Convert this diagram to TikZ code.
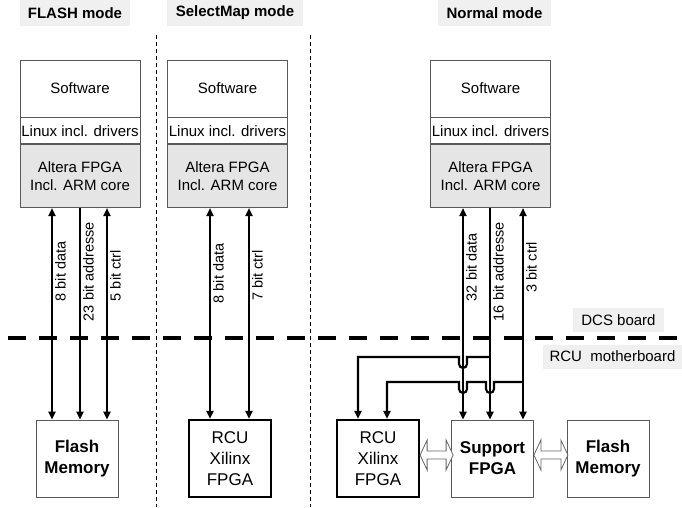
\documentclass[tikz,border=0pt]{standalone}
\usepackage{fontspec}
\setmainfont{Liberation Sans}
\usetikzlibrary{arrows.meta,positioning}

\tikzset{
  title/.style={fill=gray!12, font=\bfseries\fontsize{15}{18}\selectfont, minimum height=26pt, inner sep=0pt},
  layer/.style={draw=black!65, line width=0.8pt, minimum width=120pt, inner sep=0pt, align=center, font=\fontsize{15}{18}\selectfont},
  chip/.style={draw=black!65, line width=0.8pt, minimum width=82pt, minimum height=77pt, inner sep=0pt, align=center, font=\fontsize{17}{21}\selectfont},
  xilinx/.style={chip, draw=black, line width=2.2pt},
  bus/.style={line width=2.1pt},
  buslabel/.style={rotate=90, anchor=north, inner sep=2pt, font=\fontsize{14.5}{17}\selectfont},
  hollow/.style={draw=black!60, fill=white, line width=0.8pt},
  divider/.style={line width=0.9pt, dash pattern=on 4pt off 3pt},
  boardline/.style={line width=4.5pt, dash pattern=on 18pt off 13pt},
  board/.style={fill=gray!12, inner sep=0pt, minimum height=24pt, font=\fontsize{15}{18}\selectfont}
}

\begin{document}
\begin{tikzpicture}[x=1pt, y=-1pt, >={Triangle[length=8pt,width=7pt]}]
\useasboundingbox (0,0) rectangle (682,507);

% mode separators and board border
\draw[divider] (156,35) -- (156,507);
\draw[divider] (310,35) -- (310,507);
\draw[boardline] (8,338) -- (682,338);

\node[board, minimum width=91pt] (dcs) at (618.5,320) {DCS board};
\node[board, minimum width=139pt] (rcu) at (612.5,356.5) {RCU\ \ motherboard};

% FLASH mode
\node[title, minimum width=110pt] (tA) at (75,13) {FLASH mode};
\node[layer, minimum height=57pt] (swA) at (80,88.5) {Software};
\node[layer, minimum height=26pt, below=0pt of swA] (liA) {Linux incl. drivers};
\node[layer, minimum height=63pt, fill=gray!20, below=0pt of liA] (alA) {Altera FPGA\\Incl. ARM core};
\node[chip, font=\bfseries\fontsize{17}{21}\selectfont] (flA) at (77,458.5) {Flash\\Memory};

\coordinate (a1) at ([xshift=-28pt]alA.south);
\coordinate (a2) at (alA.south);
\coordinate (a3) at ([xshift=27pt]alA.south);
\draw[bus, <->] (a1) -- (a1 |- flA.north) node[buslabel, pos=0.3] {8 bit data};
\draw[bus, ->] (a2) -- (a2 |- flA.north) node[buslabel, pos=0.3] {23 bit addresse};
\draw[bus, <->] (a3) -- (a3 |- flA.north) node[buslabel, pos=0.32] {5 bit ctrl};

% SelectMap mode
\node[title, minimum width=136pt] (tB) at (235,13) {SelectMap mode};
\node[layer, minimum height=57pt] (swB) at (227.5,88.5) {Software};
\node[layer, minimum height=26pt, below=0pt of swB] (liB) {Linux incl. drivers};
\node[layer, minimum height=63pt, fill=gray!20, below=0pt of liB] (alB) {Altera FPGA\\Incl. ARM core};
\node[xilinx] (xiB) at (230,458.5) {RCU\\Xilinx\\FPGA};

\coordinate (b1) at ([xshift=-17.5pt]alB.south);
\coordinate (b2) at ([xshift=21.5pt]alB.south);
\draw[bus, <->] (b1) -- (b1 |- xiB.north) node[buslabel, pos=0.31] {8 bit data};
\draw[bus, <->] (b2) -- (b2 |- xiB.north) node[buslabel, pos=0.32] {7 bit ctrl};

% Normal mode
\node[title, minimum width=113pt] (tC) at (494.5,13) {Normal mode};
\node[layer, minimum height=57pt] (swC) at (490.5,88.5) {Software};
\node[layer, minimum height=26pt, below=0pt of swC] (liC) {Linux incl. drivers};
\node[layer, minimum height=63pt, fill=gray!20, below=0pt of liC] (alC) {Altera FPGA\\Incl. ARM core};
\node[xilinx] (xiC) at (378,458.5) {RCU\\Xilinx\\FPGA};
\node[chip, font=\bfseries\fontsize{17}{21}\selectfont] (suC) at (492.5,458.5) {Support\\FPGA};
\node[chip, font=\bfseries\fontsize{17}{21}\selectfont] (flC) at (608,458.5) {Flash\\Memory};

\coordinate (c1) at ([xshift=-27.5pt]alC.south);
\coordinate (c2) at ([xshift=-0.5pt]alC.south);
\coordinate (c3) at ([xshift=32.5pt]alC.south);
\draw[bus, <->] (c1) -- (c1 |- suC.north) node[buslabel, pos=0.28] {32 bit data};
\draw[bus, ->] (c2) -- (c2 |- suC.north) node[buslabel, pos=0.3] {16 bit addresse};
\draw[bus, <->] (c3) -- (c3 |- suC.north) node[buslabel, pos=0.28] {3 bit ctrl};

% branches to the Xilinx
\coordinate (x1) at ([xshift=-20pt]xiC.north);
\coordinate (x2) at ([xshift=9pt]xiC.north);
\coordinate (tap1) at (490,357);
\coordinate (tap2) at (523,382);
\draw[bus, ->] (tap1) -- (467,357) -- (467,364) arc[start angle=0, end angle=-180, radius=4pt] -- (459,357)
  -- (x1 |- tap1) -- (x1);
\draw[bus, ->] (tap2) -- (494,382) -- (494,389) arc[start angle=0, end angle=-180, radius=4pt] -- (486,382)
  -- (467,382) -- (467,389) arc[start angle=0, end angle=-180, radius=4pt] -- (459,382)
  -- (x2 |- tap2) -- (x2);

% hollow links
\draw[hollow] ([yshift=3.5pt]xiC.east) -- ++(7,-15) -- ++(0,11) -- ++(19,0) -- ++(0,-11) -- ++(7,15)
  -- ++(-7,15) -- ++(0,-11) -- ++(-19,0) -- ++(0,11) -- cycle;
\draw[hollow] ([yshift=3.5pt]suC.east) -- ++(7,-15) -- ++(0,11) -- ++(20,0) -- ++(0,-11) -- ++(7,15)
  -- ++(-7,15) -- ++(0,-11) -- ++(-20,0) -- ++(0,11) -- cycle;
\end{tikzpicture}
\end{document}
